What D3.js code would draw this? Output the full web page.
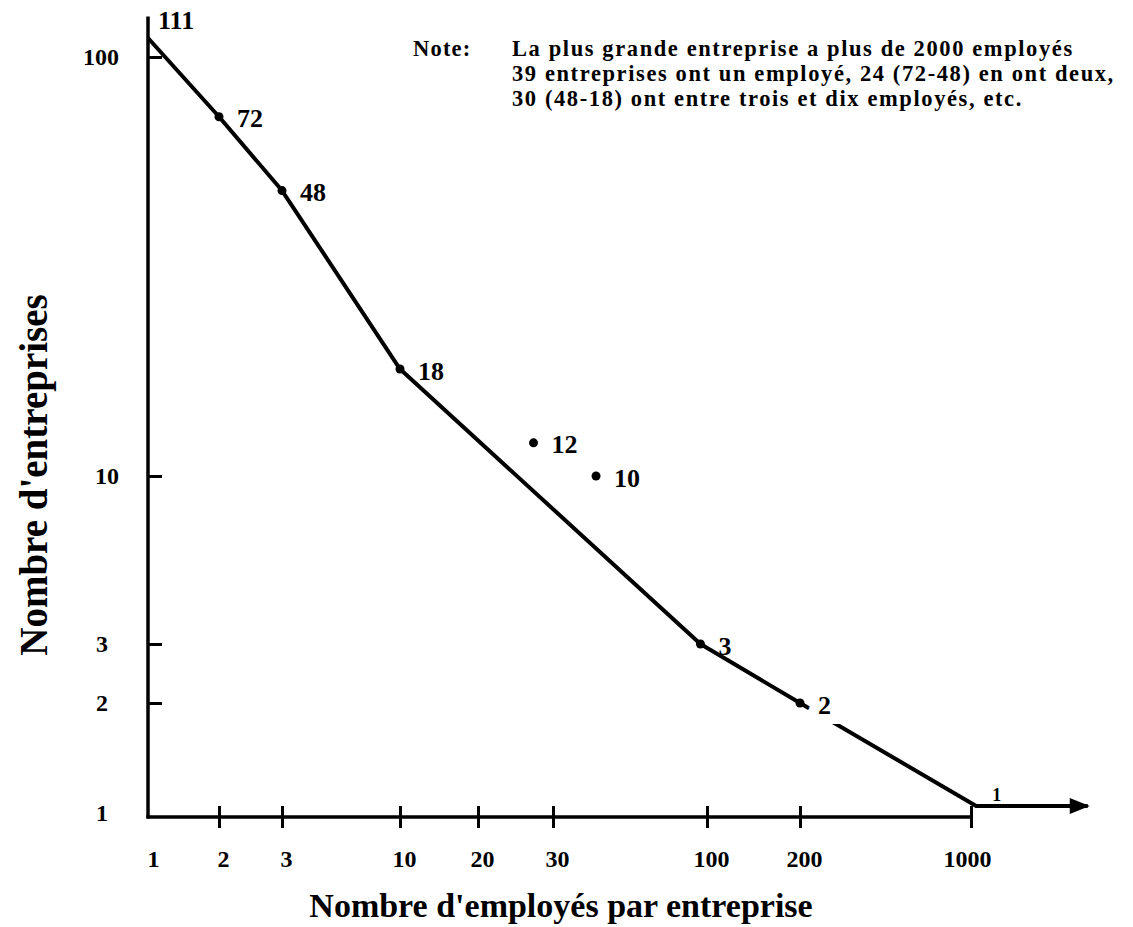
<!DOCTYPE html>
<html><head><meta charset="utf-8">
<script src="https://cdn.jsdelivr.net/npm/d3@7"></script>
<style>body{margin:0;background:#fff}svg{display:block}</style>
</head><body>
<svg id="chart" width="1133" height="927"></svg>
<script>
// ---- data ----
const xTickValues = [1, 2, 3, 10, 20, 30, 100, 200, 1000];
const yTickValues = [1, 2, 3, 10, 100];
const employees = [1, 2, 3, 10, 27, 42, 95, 200, 1050];
const firms = [111, 72, 48, 18, 12, 10, 3, 2, 1];
const onCurve = [true, true, true, true, false, false, true, true, true];
const showDot = [false, true, true, true, true, true, true, true, false];
const arrowEndEmployees = 3000;
const noteLabel = "Note:";
const noteLines = [
  "La plus grande entreprise a plus de 2000 employés",
  "39 entreprises ont un employé, 24 (72-48) en ont deux,",
  "30 (48-18) ont entre trois et dix employés, etc."
];
const xTitle = "Nombre d'employés par entreprise";
const yTitle = "Nombre d'entreprises";

// ---- layout (hand-drawn, uneven log axes) ----
const FONT = "'Liberation Serif', 'Times New Roman', serif";
const svg = d3.select("#chart");
const x = d3.scaleLog().domain(xTickValues).range([148, 219, 282, 400, 478, 553, 707, 800, 971]);
const y = d3.scaleLog().domain(yTickValues).range([806, 703, 644, 476, 57]);
const baseY = 817;
const axisX = x(1);

const pts = employees.map((e, i) => ({e, f: firms[i], on: onCurve[i], dot: showDot[i]}));

// axes lines
svg.append("line").attr("x1", axisX).attr("x2", axisX).attr("y1", y(125)).attr("y2", baseY + 1.5)
  .attr("stroke", "#000").attr("stroke-width", 3.5);
svg.append("line").attr("x1", axisX - 1.5).attr("x2", x(1000)).attr("y1", baseY).attr("y2", baseY)
  .attr("stroke", "#000").attr("stroke-width", 3.5);

// x axis ticks / labels
const xAxis = d3.axisBottom(x).tickValues(xTickValues).tickFormat(d3.format("d")).tickSize(11).tickPadding(22);
const gx = svg.append("g").attr("transform", `translate(0,${baseY})`).call(xAxis);
gx.select(".domain").remove();
gx.selectAll(".tick line").attr("y1", -11).attr("stroke-width", 3).attr("stroke", "#000")
  .attr("display", d => d === 1 ? "none" : null);
gx.selectAll(".tick text").attr("font-family", FONT).attr("font-weight", "bold").attr("font-size", 24)
  .attr("fill", "#000").attr("dx", d => d === 1 ? 5 : d === 1000 ? -4 : 4);

// y axis ticks / labels
const yAxis = d3.axisLeft(y).tickValues(yTickValues).tickFormat(d3.format("d")).tickSize(14).tickPadding(15);
const gy = svg.append("g").attr("transform", `translate(${axisX},0)`).call(yAxis);
gy.select(".domain").remove();
gy.selectAll(".tick line").attr("x2", 14).attr("stroke-width", 3).attr("stroke", "#000")
  .attr("display", d => d === 1 ? "none" : null);
gy.selectAll(".tick text").attr("font-family", FONT).attr("font-weight", "bold").attr("font-size", 24)
  .attr("fill", "#000").attr("dx", d => d < 10 ? -11 : 0)
  .attr("dy", d => d === 1 ? "0.6em" : "0.32em");

// arrow marker
svg.append("defs").append("marker").attr("id", "arrow").attr("markerUnits", "userSpaceOnUse")
  .attr("viewBox", "0 0 20 16").attr("refX", 18).attr("refY", 8)
  .attr("markerWidth", 22).attr("markerHeight", 16).attr("orient", "auto")
  .append("path").attr("d", "M0,0L20,8L0,16Z").attr("fill", "#000");

// curve
const curvePts = pts.filter(p => p.on).concat([{e: arrowEndEmployees, f: 1}]);
const line = d3.line().x(p => x(p.e)).y(p => y(p.f));
svg.append("path").datum(curvePts).attr("d", line).attr("fill", "none")
  .attr("stroke", "#000").attr("stroke-width", 4).attr("stroke-linejoin", "round")
  .attr("marker-end", "url(#arrow)");

// dots
svg.selectAll("circle.pt").data(pts.filter(p => p.dot)).join("circle").attr("class", "pt")
  .attr("cx", p => x(p.e)).attr("cy", p => y(p.f)).attr("r", 4.5).attr("fill", "#000");

// value labels
const last = pts.length - 1;
svg.selectAll("text.val").data(pts).join("text").attr("class", "val")
  .attr("x", (p, i) => x(p.e) + (i === 0 ? 10 : i === last ? 16 : 18))
  .attr("y", (p, i) => y(p.f) + (i === 0 ? -18 : i === last ? -11 : 2))
  .attr("dominant-baseline", "central")
  .attr("font-family", FONT).attr("font-weight", "bold")
  .attr("font-size", (p, i) => i === last ? 18 : 26)
  .attr("fill", "#000")
  .attr("stroke", "#fff").attr("stroke-width", (p, i) => i === 7 ? 20 : 0).attr("paint-order", "stroke")
  .text(p => p.f);

// note
svg.append("text").attr("x", 413).attr("y", 56)
  .attr("font-family", FONT).attr("font-weight", "bold").attr("font-size", 22.5)
  .attr("letter-spacing", 1.2).text(noteLabel);
svg.selectAll("text.note").data(noteLines).join("text").attr("class", "note")
  .attr("x", 512).attr("y", (d, i) => 56 + i * 25)
  .attr("font-family", FONT).attr("font-weight", "bold").attr("font-size", 22.5)
  .attr("letter-spacing", 1.6).text(d => d);

// axis titles
svg.append("text").attr("x", 561).attr("y", 917).attr("text-anchor", "middle")
  .attr("font-family", FONT).attr("font-weight", "bold").attr("font-size", 34).text(xTitle);
svg.append("text").attr("transform", "translate(47,475) rotate(-90)").attr("text-anchor", "middle")
  .attr("font-family", FONT).attr("font-weight", "bold").attr("font-size", 39).text(yTitle);
</script>
</body></html>
